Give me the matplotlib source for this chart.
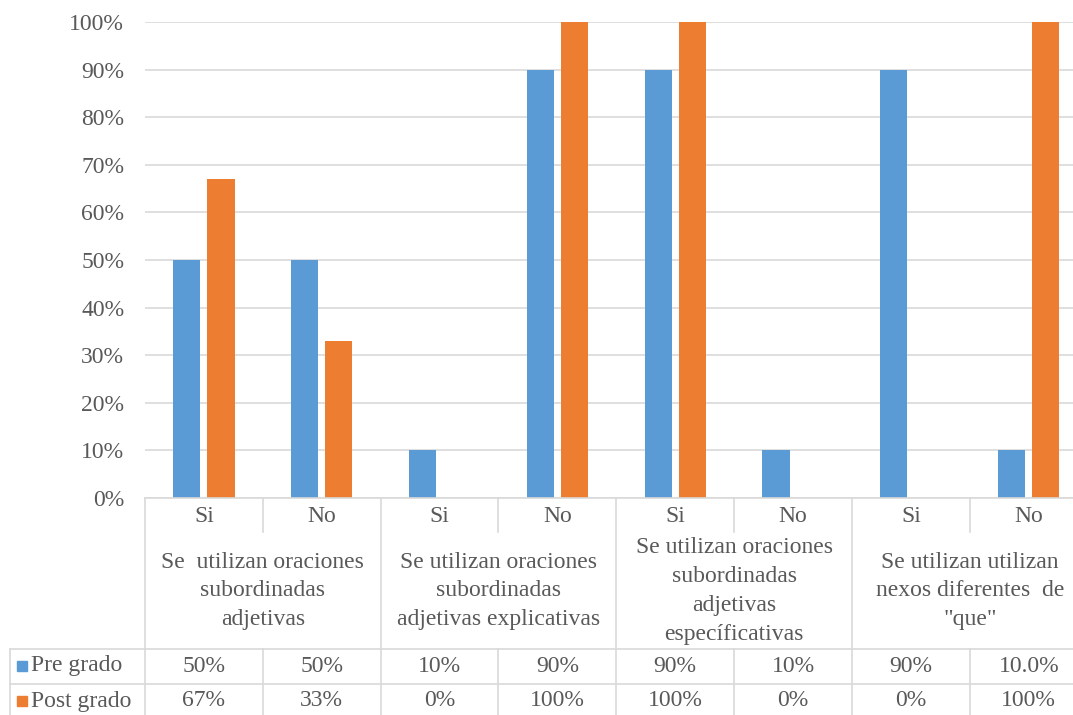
import matplotlib.pyplot as plt

# Datos
sub_categorias = ["Si", "No", "Si", "No", "Si", "No", "Si", "No"]
grupos = [
    "Se  utilizan oraciones\nsubordinadas\nadjetivas",
    "Se utilizan oraciones\nsubordinadas\nadjetivas explicativas",
    "Se utilizan oraciones\nsubordinadas\nadjetivas\nespecíficativas",
    "Se utilizan utilizan\nnexos diferentes  de\n\"que\"",
]
pre_grado = [0.50, 0.50, 0.10, 0.90, 0.90, 0.10, 0.90, 0.10]
post_grado = [0.67, 0.33, 0.00, 1.00, 1.00, 0.00, 0.00, 1.00]
pre_etiquetas = ["50%", "50%", "10%", "90%", "90%", "10%", "90%", "10.0%"]
post_etiquetas = ["67%", "33%", "0%", "100%", "100%", "0%", "0%", "100%"]
series = ["Pre grado", "Post grado"]

azul = "#5B9BD5"
naranja = "#ED7D31"
gris_texto = "#595959"
gris_linea = "#D9D9D9"

plt.rcParams["font.family"] = ["Liberation Serif", "DejaVu Serif"]
plt.rcParams["font.size"] = 17

W, H = 1073, 715
fig = plt.figure(figsize=(W / 100, H / 100), dpi=100)


def px(x0, y0, x1, y1):
    # convierte caja en pixeles (origen arriba-izquierda) a fracciones de figura
    return [x0 / W, 1 - y1 / H, (x1 - x0) / W, (y1 - y0) / H]


col = (852 - 145) / 6
x_der = 145 + 8 * col

# Gráfico de barras
ax = fig.add_axes(px(145, 22, x_der, 498))
n = len(pre_grado)
xs = [i + 0.5 for i in range(n)]
ax.bar([x - 0.145 for x in xs], pre_grado, width=0.23, color=azul, zorder=3)
ax.bar([x + 0.145 for x in xs], post_grado, width=0.23, color=naranja, zorder=3)
ax.set_xlim(0, n)
ax.set_ylim(0, 1)
ax.set_yticks([i / 10 for i in range(11)])
ax.set_yticklabels([f"{i * 10}%" for i in range(11)], color=gris_texto)
ax.tick_params(axis="y", length=0, pad=15)
ax.set_xticks([])
ax.grid(axis="y", color=gris_linea, linewidth=1.2, zorder=0)
for s in ax.spines.values():
    s.set_visible(False)

# Tabla de datos
x_izq = (10 - 145) / col
tab = fig.add_axes(px(10, 498, x_der, 720))
tab.set_xlim(x_izq, n)
tab.set_ylim(222, 0)
tab.axis("off")

kw = dict(color=gris_linea, linewidth=1.2, clip_on=False)
tab.plot([0, n], [0, 0], **kw)
for y in [151, 186, 221]:
    tab.plot([x_izq, n], [y, y], **kw)
for i in range(n + 1):
    if i % 2 == 0:
        tab.plot([i, i], [0, 221], **kw)
    else:
        tab.plot([i, i], [0, 34], **kw)
        tab.plot([i, i], [151, 221], **kw)
tab.plot([x_izq, x_izq], [151, 221], **kw)

for i, s in enumerate(sub_categorias):
    tab.text(i + 0.5, 18, s, ha="center", va="center", color=gris_texto)
for g, etiqueta in enumerate(grupos):
    tab.text(2 * g + 1, 93, etiqueta, ha="center", va="center",
             color=gris_texto, linespacing=1.5, multialignment="center")
for i in range(n):
    tab.text(i + 0.5, 168, pre_etiquetas[i], ha="center", va="center", color=gris_texto)
    tab.text(i + 0.5, 203, post_etiquetas[i], ha="center", va="center", color=gris_texto)

for y, nombre, c in zip([168, 203], series, [azul, naranja]):
    tab.plot([x_izq + 12 / col], [y], marker="s", markersize=7.5, color=c,
             linestyle="none", clip_on=False)
    tab.text(x_izq + 21 / col, y, nombre, ha="left", va="center", color=gris_texto)

fig.savefig("out.png", dpi=100)
